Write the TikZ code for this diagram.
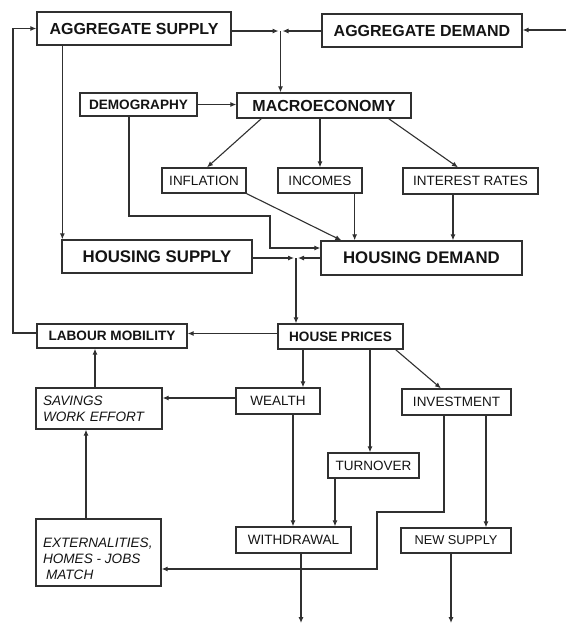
\documentclass[tikz,border=0pt]{standalone}
\usepackage{fontspec}
\setmainfont{Liberation Sans}
\usetikzlibrary{arrows.meta}
\definecolor{linec}{HTML}{303030}
\definecolor{txt}{HTML}{141414}
\begin{document}
\begin{tikzpicture}[x=1pt,y=-1pt,
  box/.style={draw=linec, line width=1.3pt, inner sep=0pt, text=txt, align=center},
  arr/.style={draw=linec, line width=1.1pt, -{Latex[length=6pt,width=5pt]}},
  fbig/.style={font=\fontsize{16}{19}\selectfont\bfseries},
  fhuge/.style={font=\fontsize{16.8}{20}\selectfont\bfseries},
  fbold/.style={font=\fontsize{13.6}{16}\selectfont\bfseries},
  freg/.style={font=\fontsize{13.5}{16}\selectfont},
  fit/.style={font=\fontsize{13.6}{16}\selectfont\itshape}
]
\useasboundingbox (0,0) rectangle (568,625);
\fill[white] (0,0) rectangle (568,625);

% nodes
\node[box, fbig, minimum width=194pt, minimum height=33pt] (AS) at (134,28.5) {AGGREGATE SUPPLY};
\node[box, fbig, minimum width=200pt, minimum height=33pt] (AD) at (422,30.5) {AGGREGATE DEMAND};
\node[box, fbold, minimum width=117pt, minimum height=23pt] (DEMO) at (138.5,104.5) {DEMOGRAPHY};
\node[box, fbig, minimum width=174pt, minimum height=25pt] (MACRO) at (324,105.5) {MACROECONOMY};
\node[box, freg, minimum width=84pt, minimum height=25pt] (INFL) at (204,180.5) {INFLATION};
\node[box, freg, minimum width=84pt, minimum height=25pt] (INC) at (320,180.5) {INCOMES};
\node[box, freg, minimum width=135pt, minimum height=26pt] (IR) at (470.5,181) {INTEREST RATES};
\node[box, fhuge, minimum width=190pt, minimum height=33pt] (HS) at (157,256.5) {HOUSING SUPPLY};
\node[box, fhuge, minimum width=201pt, minimum height=34pt] (HD) at (421.5,258) {HOUSING DEMAND};
\node[box, fbold, minimum width=150pt, minimum height=24pt] (LM) at (112,336) {LABOUR MOBILITY};
\node[box, fbold, minimum width=125pt, minimum height=25pt] (HP) at (340.5,336.5) {HOUSE PRICES};
\node[box, freg, minimum width=84pt, minimum height=26pt] (WE) at (278,401) {WEALTH};
\node[box, freg, minimum width=109pt, minimum height=26pt] (INV) at (456.5,402) {INVESTMENT};
\node[box, fit, align=left, text width=112pt, minimum width=126pt, minimum height=41pt] (SAV) at (99,408.5) {SAVINGS\\WORK EFFORT};
\node[box, freg, minimum width=91pt, minimum height=25pt] (TURN) at (373.5,465.5) {TURNOVER};
\node[box, fit, minimum width=125pt, minimum height=67pt] (EXT) at (98.5,552.5)
  {\parbox[c][55pt][b]{111pt}{\raggedright EXTERNALITIES,\\HOMES - JOBS\\\hspace*{3pt}MATCH}};
\node[box, freg, minimum width=115pt, minimum height=26pt] (WD) at (293.5,540) {WITHDRAWAL};
\node[box, freg, font=\fontsize{12.8}{15}\selectfont, minimum width=110pt, minimum height=25pt] (NS) at (456,540.5) {NEW SUPPLY};

% helper coordinates
\coordinate (adsrc) at (566,30);
\coordinate (j1) at (280.5,31);
\coordinate (j1l) at (278.5,31);
\coordinate (j1r) at (282.5,31);
\coordinate (j2) at (296,258);
\coordinate (j2l) at (294,258);
\coordinate (j2r) at (298,258);
\coordinate (fb) at (13,0);
\coordinate (d1) at (129,216);
\coordinate (d2) at (270,216);
\coordinate (d3) at (321,248);
\coordinate (i1) at (444,512);
\coordinate (i2) at (377,512);
\coordinate (i3) at (377,569);
\coordinate (out1) at (301,623);
\coordinate (out2) at (451,623);

% connectors top
\draw[arr] (adsrc) -- (adsrc -| AD.east);
\draw[arr] (AS.east |- j1) -- (j1l);
\draw[arr] (AD.west |- j1) -- (j1r);
\draw[arr] (j1) -- (j1 |- MACRO.north);
\draw[arr] (DEMO.east) -- (MACRO.west |- DEMO.east);
\draw[arr] ([xshift=25pt]MACRO.south west) -- ([xshift=3pt]INFL.north);
\draw[arr] (INC.north |- MACRO.south) -- (INC.north);
\draw[arr] ([xshift=-23pt]MACRO.south east) -- ([xshift=-12.5pt]IR.north);
\draw[arr] (INFL.south east) -- ([xshift=21pt]HD.north west);
\draw[arr] ([xshift=-8pt]INC.south east) -- ([xshift=-8pt]INC.south east |- HD.north);
\draw[arr] ([xshift=-17.5pt]IR.south) -- ([xshift=-17.5pt]IR.south |- HD.north);
\draw[arr] ([xshift=26pt]AS.south west) -- ([xshift=26pt]AS.south west |- HS.north);
\draw[arr] (DEMO.south -| d1) -- (d1) -- (d2) -- (d2 |- d3) -- (HD.west |- d3);
\draw[arr] (HS.east |- j2) -- (j2l);
\draw[arr] (HD.west |- j2) -- (j2r);
\draw[arr] (j2) -- (j2 |- HP.north);

% connectors lower
\draw[arr] ([yshift=3pt]HP.west) -- ([yshift=3pt]HP.west -| LM.east);
\draw[arr] ([yshift=3pt]LM.west) -- ([yshift=3pt]LM.west -| fb) -- (fb |- AS.west) -- (AS.west);
\draw[arr] ([xshift=-37.5pt]HP.south) -- ([xshift=25pt]WE.north);
\draw[arr] ([xshift=29.5pt]HP.south) -- ([xshift=-3.5pt]TURN.north);
\draw[arr] ([xshift=-8pt]HP.south east) -- ([xshift=-15.5pt]INV.north);
\draw[arr] ([yshift=3pt]WE.west) -- ([yshift=3pt]WE.west -| SAV.east);
\draw[arr] ([xshift=-4pt]SAV.north) -- ([xshift=-4pt]SAV.north |- LM.south);
\draw[arr] ([xshift=-12.5pt]EXT.north) -- ([xshift=-12.5pt]EXT.north |- SAV.south);
\draw[arr] ([xshift=15pt]WE.south) -- ([xshift=15pt]WE.south |- WD.north);
\draw[arr] ([xshift=-38.5pt]TURN.south) -- ([xshift=-38.5pt]TURN.south |- WD.north);
\draw[arr] (INV.south -| i1) -- (i1) -- (i2) -- (i3) -- (EXT.east |- i3);
\draw[arr] ([xshift=29.5pt]INV.south) -- ([xshift=29.5pt]INV.south |- NS.north);
\draw[arr] (WD.south -| out1) -- (out1);
\draw[arr] (NS.south -| out2) -- (out2);
\end{tikzpicture}
\end{document}
